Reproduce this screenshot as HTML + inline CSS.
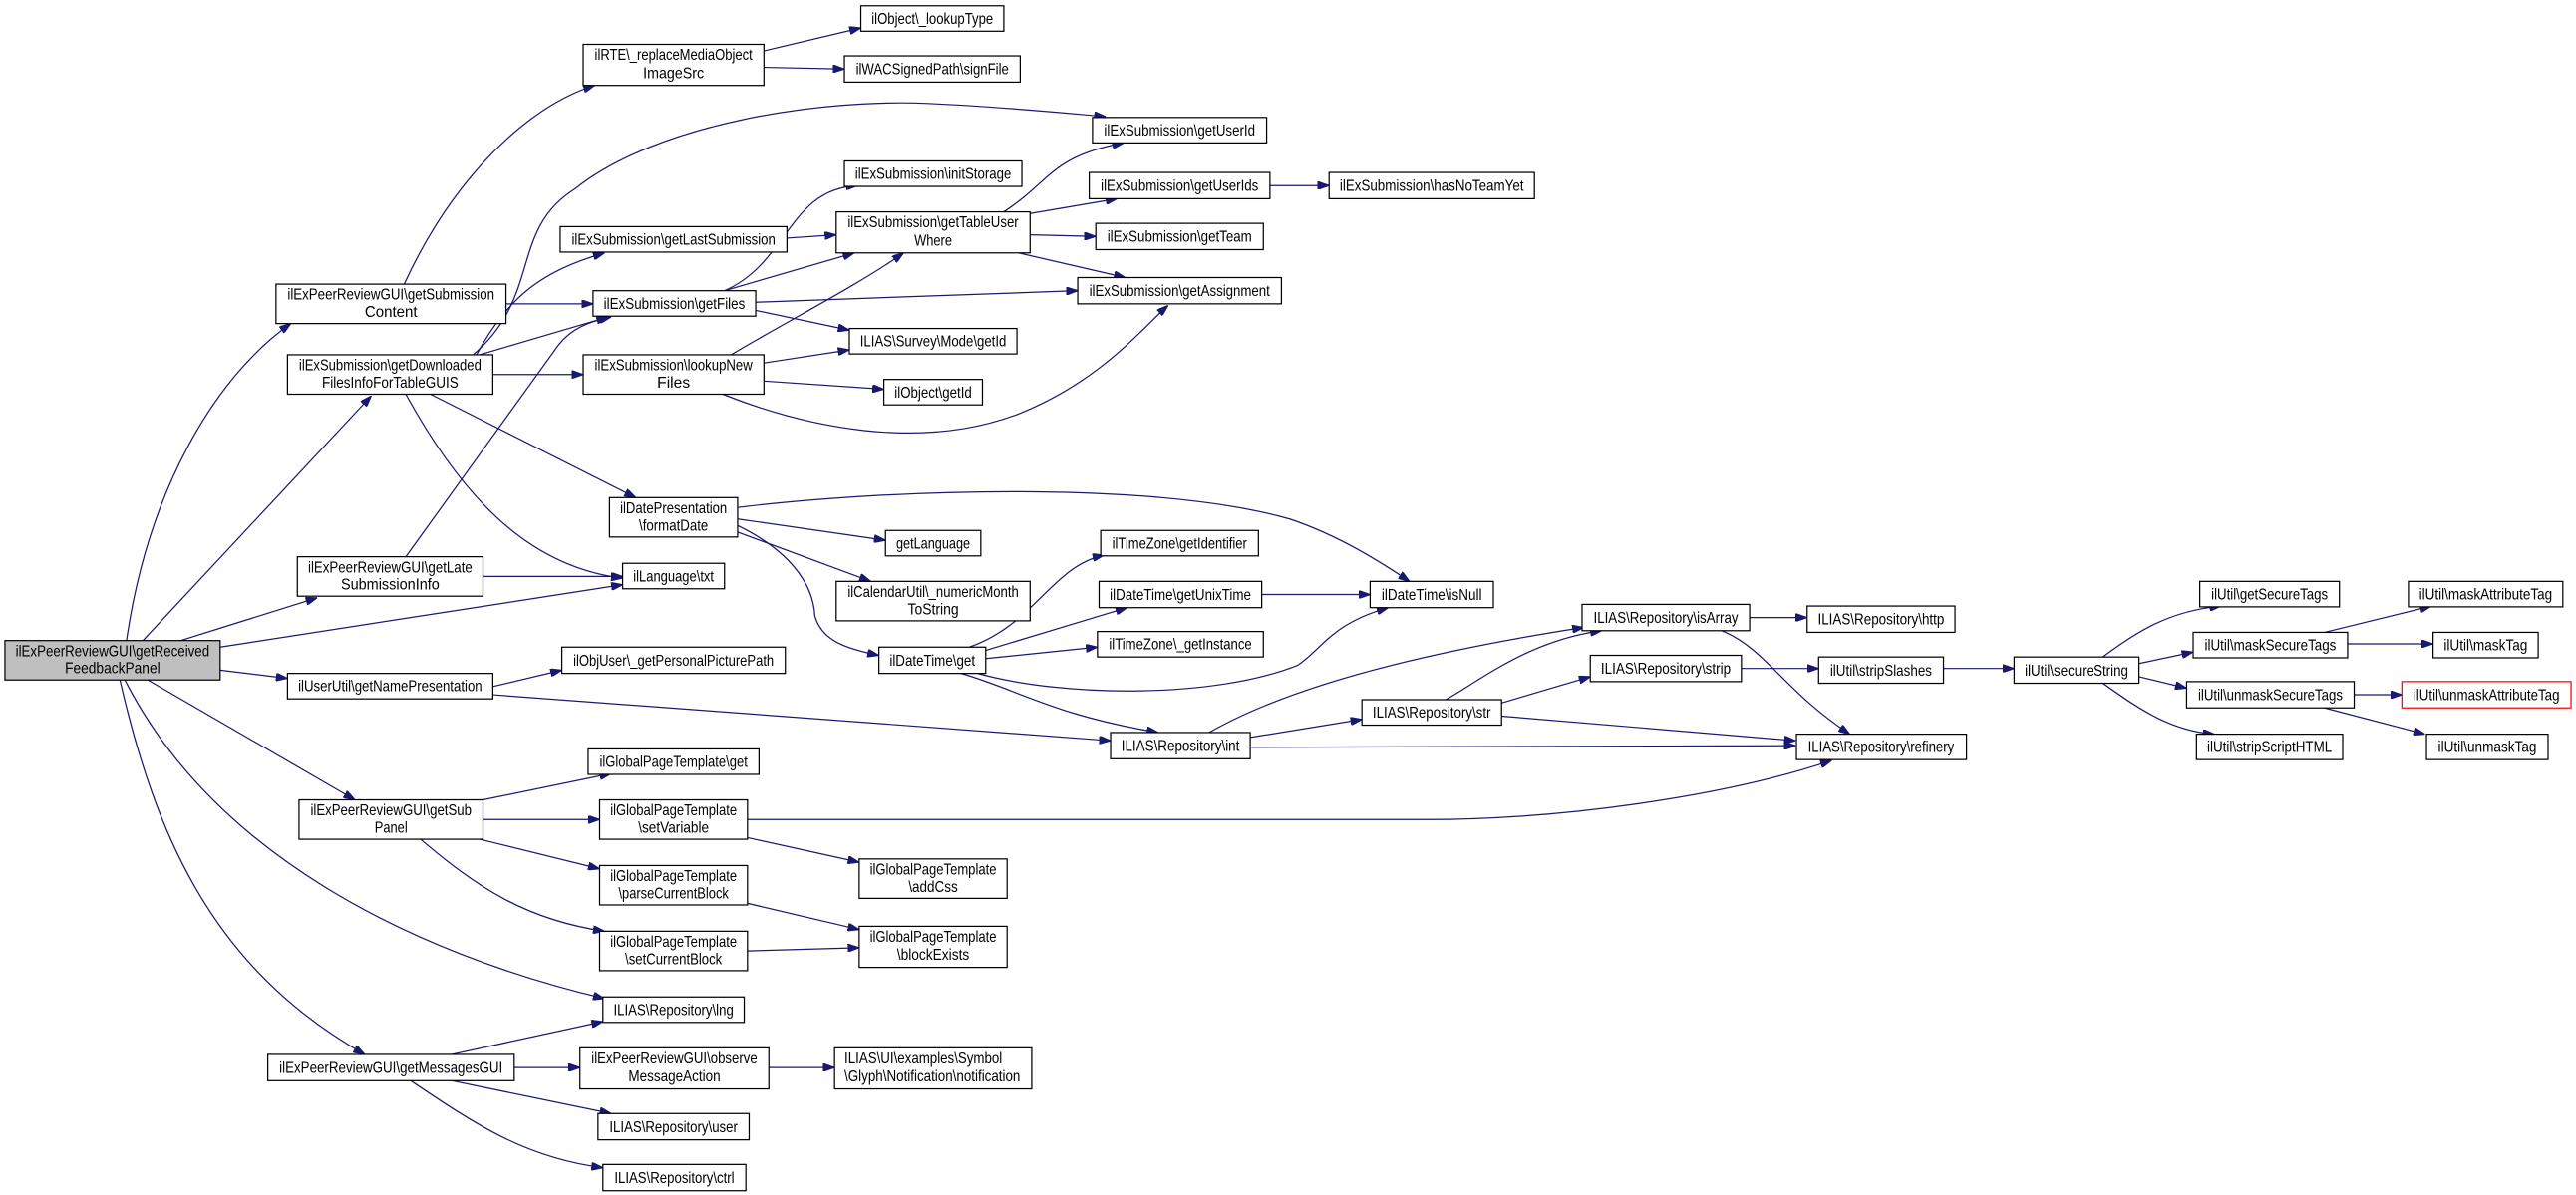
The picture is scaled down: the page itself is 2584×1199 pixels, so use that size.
<!DOCTYPE html>
<html><head><meta charset="utf-8"><style>
html,body{margin:0;padding:0;background:#fff;}
svg{display:block;}
text{font-family:"Liberation Sans",sans-serif;font-size:9.4px;fill:#000;}
.n{fill:#fff;stroke:#000;stroke-width:0.75;}
.e{fill:none;stroke:#191970;stroke-width:0.75;marker-end:url(#a);}
</style></head><body>
<svg width="2584" height="1199" viewBox="0 0 1568 727.6" preserveAspectRatio="none" xmlns="http://www.w3.org/2000/svg">
<defs><marker id="a" viewBox="0 0 10 7" refX="10" refY="3.5" markerWidth="7" markerHeight="4.9" markerUnits="userSpaceOnUse" orient="auto"><path d="M0,0 L10,3.5 L0,7 z" fill="#191970" stroke="#191970"/></marker></defs>

<!-- edges -->
<path class="e" d="M77 390 C90 300,130 230,177 197"/>
<path class="e" d="M87 390 L226 241"/>
<path class="e" d="M110 390 L193 364"/>
<path class="e" d="M134 394 L379 356"/>
<path class="e" d="M134 408 L175 413"/>
<path class="e" d="M90 414 L216 487"/>
<path class="e" d="M76 414 C130 520,250 580,368 608"/>
<path class="e" d="M73 414 C95 510,130 590,222 642"/>
<path class="e" d="M246 173 C275 110,320 65,362 52"/>
<path class="e" d="M308 185 L361 185"/>
<path class="e" d="M288 216 C330 180,310 140,350 115 C400 75,500 60,565 63 C610 65,650 69,673 71"/>
<path class="e" d="M290 216 C310 180,330 165,368 154"/>
<path class="e" d="M292 216 L370 193"/>
<path class="e" d="M247 339 L340 210 C348 200,358 196,372 193"/>
<path class="e" d="M300 228 L355 228"/>
<path class="e" d="M262 240 L387 303"/>
<path class="e" d="M247 240 C280 300,320 345,379 352"/>
<path class="e" d="M294 351 L379 351"/>
<path class="e" d="M465 31 L524 17"/>
<path class="e" d="M465 41 L514 42"/>
<path class="e" d="M479 145 L509 143"/>
<path class="e" d="M441 177 C480 160,480 115,522 113"/>
<path class="e" d="M441 177 L520 154"/>
<path class="e" d="M460 184 L656 177"/>
<path class="e" d="M460 189 L517 201"/>
<path class="e" d="M445 216 C480 195,520 175,550 154"/>
<path class="e" d="M465 221 L517 213"/>
<path class="e" d="M465 232 L538 237"/>
<path class="e" d="M440 240 C490 260,560 275,620 252 C670 232,695 200,711 186"/>
<path class="e" d="M611 129 C640 110,640 95,684 87"/>
<path class="e" d="M627 130 L680 121"/>
<path class="e" d="M627 143 L667 144"/>
<path class="e" d="M620 154 L685 169"/>
<path class="e" d="M773 113 L809 113"/>
<path class="e" d="M449 309 C540 298,700 292,785 316 C815 326,840 342,858 354"/>
<path class="e" d="M449 316 L539 329"/>
<path class="e" d="M449 324 L530 354"/>
<path class="e" d="M449 320 C480 335,495 355,496 375 C500 390,515 395,535 399"/>
<path class="e" d="M590 394 C630 380,640 345,672 338"/>
<path class="e" d="M600 396 L686 370"/>
<path class="e" d="M600 401 L668 394"/>
<path class="e" d="M595 410 C650 425,740 425,790 405 C805 395,810 380,845 370"/>
<path class="e" d="M585 410 C620 420,640 435,705 446"/>
<path class="e" d="M768 362 L834 362"/>
<path class="e" d="M300 418 L342 408"/>
<path class="e" d="M300 423 L676 451"/>
<path class="e" d="M736 446 C790 415,880 395,964 382"/>
<path class="e" d="M761 449 L829 438"/>
<path class="e" d="M761 455 L1093 454"/>
<path class="e" d="M880 426 C900 415,930 390,975 384"/>
<path class="e" d="M914 428 L968 412"/>
<path class="e" d="M914 436 L1093 451"/>
<path class="e" d="M1065 376 L1100 376"/>
<path class="e" d="M1048 384 C1075 395,1085 420,1126 447"/>
<path class="e" d="M1060 407 L1107 407"/>
<path class="e" d="M1183 407 L1226 407"/>
<path class="e" d="M455 499 L868 499 C950 499,1050 485,1115 463"/>
<path class="e" d="M1280 400 C1300 385,1320 372,1352 369"/>
<path class="e" d="M1302 404 L1335 397"/>
<path class="e" d="M1302 412 L1331 419"/>
<path class="e" d="M1280 416 C1300 430,1320 445,1348 447"/>
<path class="e" d="M1415 385 L1480 369"/>
<path class="e" d="M1429 392 L1481 392"/>
<path class="e" d="M1433 423 L1462 423"/>
<path class="e" d="M1415 431 L1476 447"/>
<path class="e" d="M294 487 L372 471"/>
<path class="e" d="M294 499 L365 499"/>
<path class="e" d="M292 511 L365 529"/>
<path class="e" d="M256 511 C290 540,320 560,368 567"/>
<path class="e" d="M455 510 L523 525"/>
<path class="e" d="M455 550 L523 566"/>
<path class="e" d="M455 579 L523 577"/>
<path class="e" d="M275 642 L367 622"/>
<path class="e" d="M313 650 L353 650"/>
<path class="e" d="M275 658 L372 678"/>
<path class="e" d="M250 658 C290 685,320 705,367 711"/>
<path class="e" d="M468 650 L508 650"/>

<!-- nodes: single line -->
<g>
<rect x="3" y="390" width="131" height="24" fill="#bfbfbf" stroke="#000" stroke-width="0.75"/>
<text x="68.5" y="399.5" text-anchor="middle" textLength="118" lengthAdjust="spacingAndGlyphs">ilExPeerReviewGUI\getReceived</text>
<text x="68.5" y="410" text-anchor="middle" textLength="58" lengthAdjust="spacingAndGlyphs">FeedbackPanel</text>

<rect class="n" x="168" y="173" width="140" height="24"/>
<text x="238" y="182.5" text-anchor="middle" textLength="126" lengthAdjust="spacingAndGlyphs">ilExPeerReviewGUI\getSubmission</text>
<text x="238" y="193" text-anchor="middle" textLength="32" lengthAdjust="spacingAndGlyphs">Content</text>

<rect class="n" x="175" y="216" width="125" height="24"/>
<text x="237.5" y="225.5" text-anchor="middle" textLength="111" lengthAdjust="spacingAndGlyphs">ilExSubmission\getDownloaded</text>
<text x="237.5" y="236" text-anchor="middle" textLength="83" lengthAdjust="spacingAndGlyphs">FilesInfoForTableGUIS</text>

<rect class="n" x="181" y="339" width="113" height="24"/>
<text x="237.5" y="348.5" text-anchor="middle" textLength="100" lengthAdjust="spacingAndGlyphs">ilExPeerReviewGUI\getLate</text>
<text x="237.5" y="359" text-anchor="middle" textLength="60" lengthAdjust="spacingAndGlyphs">SubmissionInfo</text>

<rect class="n" x="175" y="410" width="125" height="15.5"/>
<text x="237.5" y="421" text-anchor="middle" textLength="112" lengthAdjust="spacingAndGlyphs">ilUserUtil\getNamePresentation</text>

<rect class="n" x="182" y="487" width="112" height="24"/>
<text x="238" y="496.5" text-anchor="middle" textLength="98" lengthAdjust="spacingAndGlyphs">ilExPeerReviewGUI\getSub</text>
<text x="238" y="507" text-anchor="middle" textLength="20" lengthAdjust="spacingAndGlyphs">Panel</text>

<rect class="n" x="163" y="642" width="150" height="16"/>
<text x="238" y="653.3" text-anchor="middle" textLength="136" lengthAdjust="spacingAndGlyphs">ilExPeerReviewGUI\getMessagesGUI</text>

<rect class="n" x="355" y="27" width="110" height="25"/>
<text x="410" y="36.5" text-anchor="middle" textLength="96" lengthAdjust="spacingAndGlyphs">ilRTE\_replaceMediaObject</text>
<text x="410" y="47.5" text-anchor="middle" textLength="37" lengthAdjust="spacingAndGlyphs">ImageSrc</text>

<rect class="n" x="341" y="138" width="138" height="15.5"/>
<text x="410" y="149" text-anchor="middle" textLength="124" lengthAdjust="spacingAndGlyphs">ilExSubmission\getLastSubmission</text>

<rect class="n" x="361" y="177" width="99" height="15.5"/>
<text x="410.5" y="188" text-anchor="middle" textLength="86" lengthAdjust="spacingAndGlyphs">ilExSubmission\getFiles</text>

<rect class="n" x="355" y="216" width="110" height="24"/>
<text x="410" y="225.5" text-anchor="middle" textLength="96" lengthAdjust="spacingAndGlyphs">ilExSubmission\lookupNew</text>
<text x="410" y="236" text-anchor="middle" textLength="20" lengthAdjust="spacingAndGlyphs">Files</text>

<rect class="n" x="371" y="303" width="78" height="24"/>
<text x="410" y="312.5" text-anchor="middle" textLength="65" lengthAdjust="spacingAndGlyphs">ilDatePresentation</text>
<text x="410" y="323" text-anchor="middle" textLength="42" lengthAdjust="spacingAndGlyphs">\formatDate</text>

<rect class="n" x="379" y="343" width="62" height="15.5"/>
<text x="410" y="354" text-anchor="middle" textLength="49" lengthAdjust="spacingAndGlyphs">ilLanguage\txt</text>

<rect class="n" x="342" y="394" width="136" height="16"/>
<text x="410" y="405.3" text-anchor="middle" textLength="122" lengthAdjust="spacingAndGlyphs">ilObjUser\_getPersonalPicturePath</text>

<rect class="n" x="358" y="456" width="104" height="15.5"/>
<text x="410" y="467" text-anchor="middle" textLength="90" lengthAdjust="spacingAndGlyphs">ilGlobalPageTemplate\get</text>

<rect class="n" x="365" y="487" width="90" height="24"/>
<text x="410" y="496.5" text-anchor="middle" textLength="77" lengthAdjust="spacingAndGlyphs">ilGlobalPageTemplate</text>
<text x="410" y="507" text-anchor="middle" textLength="43" lengthAdjust="spacingAndGlyphs">\setVariable</text>

<rect class="n" x="365" y="527" width="90" height="24"/>
<text x="410" y="536.5" text-anchor="middle" textLength="77" lengthAdjust="spacingAndGlyphs">ilGlobalPageTemplate</text>
<text x="410" y="547" text-anchor="middle" textLength="67" lengthAdjust="spacingAndGlyphs">\parseCurrentBlock</text>

<rect class="n" x="365" y="567" width="90" height="24"/>
<text x="410" y="576.5" text-anchor="middle" textLength="77" lengthAdjust="spacingAndGlyphs">ilGlobalPageTemplate</text>
<text x="410" y="587" text-anchor="middle" textLength="59" lengthAdjust="spacingAndGlyphs">\setCurrentBlock</text>

<rect class="n" x="367" y="607" width="86" height="15.5"/>
<text x="410" y="618" text-anchor="middle" textLength="73" lengthAdjust="spacingAndGlyphs">ILIAS\Repository\lng</text>

<rect class="n" x="353" y="638" width="115" height="25"/>
<text x="410.5" y="647.5" text-anchor="middle" textLength="101" lengthAdjust="spacingAndGlyphs">ilExPeerReviewGUI\observe</text>
<text x="410.5" y="658.5" text-anchor="middle" textLength="56" lengthAdjust="spacingAndGlyphs">MessageAction</text>

<rect class="n" x="364" y="678" width="92" height="16"/>
<text x="410" y="689.3" text-anchor="middle" textLength="78" lengthAdjust="spacingAndGlyphs">ILIAS\Repository\user</text>

<rect class="n" x="367" y="709" width="87" height="16"/>
<text x="410.5" y="720.3" text-anchor="middle" textLength="73" lengthAdjust="spacingAndGlyphs">ILIAS\Repository\ctrl</text>

<rect class="n" x="524" y="3.5" width="87" height="15.5"/>
<text x="567.5" y="14.5" text-anchor="middle" textLength="74" lengthAdjust="spacingAndGlyphs">ilObject\_lookupType</text>

<rect class="n" x="514" y="34" width="107" height="16"/>
<text x="567.5" y="45.3" text-anchor="middle" textLength="93" lengthAdjust="spacingAndGlyphs">ilWACSignedPath\signFile</text>

<rect class="n" x="665" y="71.5" width="106" height="15.5"/>
<text x="718" y="82.5" text-anchor="middle" textLength="92" lengthAdjust="spacingAndGlyphs">ilExSubmission\getUserId</text>

<rect class="n" x="514" y="98" width="108" height="15.5"/>
<text x="568" y="109" text-anchor="middle" textLength="95" lengthAdjust="spacingAndGlyphs">ilExSubmission\initStorage</text>

<rect class="n" x="663" y="105" width="110" height="16"/>
<text x="718" y="116.3" text-anchor="middle" textLength="96" lengthAdjust="spacingAndGlyphs">ilExSubmission\getUserIds</text>

<rect class="n" x="809" y="105" width="125" height="16"/>
<text x="871.5" y="116.3" text-anchor="middle" textLength="112" lengthAdjust="spacingAndGlyphs">ilExSubmission\hasNoTeamYet</text>

<rect class="n" x="509" y="129" width="118" height="25"/>
<text x="568" y="138.5" text-anchor="middle" textLength="104" lengthAdjust="spacingAndGlyphs">ilExSubmission\getTableUser</text>
<text x="568" y="149.5" text-anchor="middle" textLength="23" lengthAdjust="spacingAndGlyphs">Where</text>

<rect class="n" x="667" y="136" width="102" height="16"/>
<text x="718" y="147.3" text-anchor="middle" textLength="88" lengthAdjust="spacingAndGlyphs">ilExSubmission\getTeam</text>

<rect class="n" x="656" y="169" width="124" height="16"/>
<text x="718" y="180.3" text-anchor="middle" textLength="110" lengthAdjust="spacingAndGlyphs">ilExSubmission\getAssignment</text>

<rect class="n" x="517" y="200" width="102" height="15.5"/>
<text x="568" y="211" text-anchor="middle" textLength="89" lengthAdjust="spacingAndGlyphs">ILIAS\Survey\Mode\getId</text>

<rect class="n" x="538" y="231" width="60" height="15.5"/>
<text x="568" y="242" text-anchor="middle" textLength="47" lengthAdjust="spacingAndGlyphs">ilObject\getId</text>

<rect class="n" x="539" y="323" width="58" height="15.5"/>
<text x="568" y="334" text-anchor="middle" textLength="45" lengthAdjust="spacingAndGlyphs">getLanguage</text>

<rect class="n" x="670" y="323" width="96" height="15.5"/>
<text x="718" y="334" text-anchor="middle" textLength="82" lengthAdjust="spacingAndGlyphs">ilTimeZone\getIdentifier</text>

<rect class="n" x="509" y="354" width="118" height="24"/>
<text x="568" y="363.5" text-anchor="middle" textLength="104" lengthAdjust="spacingAndGlyphs">ilCalendarUtil\_numericMonth</text>
<text x="568" y="374" text-anchor="middle" textLength="31" lengthAdjust="spacingAndGlyphs">ToString</text>

<rect class="n" x="669" y="354" width="99" height="16"/>
<text x="718.5" y="365.3" text-anchor="middle" textLength="86" lengthAdjust="spacingAndGlyphs">ilDateTime\getUnixTime</text>

<rect class="n" x="834" y="354" width="75" height="16"/>
<text x="871.5" y="365.3" text-anchor="middle" textLength="61" lengthAdjust="spacingAndGlyphs">ilDateTime\isNull</text>

<rect class="n" x="668" y="384.5" width="101" height="15.5"/>
<text x="718.5" y="395.5" text-anchor="middle" textLength="87" lengthAdjust="spacingAndGlyphs">ilTimeZone\_getInstance</text>

<rect class="n" x="535" y="394" width="65" height="16"/>
<text x="567.5" y="405.3" text-anchor="middle" textLength="52" lengthAdjust="spacingAndGlyphs">ilDateTime\get</text>

<rect class="n" x="676" y="446" width="85" height="16"/>
<text x="718.5" y="457.3" text-anchor="middle" textLength="72" lengthAdjust="spacingAndGlyphs">ILIAS\Repository\int</text>

<rect class="n" x="829" y="426" width="85" height="15.5"/>
<text x="871.5" y="437" text-anchor="middle" textLength="72" lengthAdjust="spacingAndGlyphs">ILIAS\Repository\str</text>

<rect class="n" x="523" y="523" width="90" height="24"/>
<text x="568" y="532.5" text-anchor="middle" textLength="77" lengthAdjust="spacingAndGlyphs">ilGlobalPageTemplate</text>
<text x="568" y="543" text-anchor="middle" textLength="30" lengthAdjust="spacingAndGlyphs">\addCss</text>

<rect class="n" x="523" y="564" width="90" height="25"/>
<text x="568" y="573.5" text-anchor="middle" textLength="77" lengthAdjust="spacingAndGlyphs">ilGlobalPageTemplate</text>
<text x="568" y="584.5" text-anchor="middle" textLength="44" lengthAdjust="spacingAndGlyphs">\blockExists</text>

<rect class="n" x="508" y="638" width="120" height="25"/>
<text x="514" y="647.5" textLength="96" lengthAdjust="spacingAndGlyphs">ILIAS\UI\examples\Symbol</text>
<text x="514" y="658.5" textLength="107" lengthAdjust="spacingAndGlyphs">\Glyph\Notification\notification</text>

<rect class="n" x="963" y="368" width="102" height="16"/>
<text x="1014" y="379.3" text-anchor="middle" textLength="88" lengthAdjust="spacingAndGlyphs">ILIAS\Repository\isArray</text>

<rect class="n" x="1100" y="369" width="90" height="16"/>
<text x="1145" y="380.3" text-anchor="middle" textLength="77" lengthAdjust="spacingAndGlyphs">ILIAS\Repository\http</text>

<rect class="n" x="968" y="399" width="92" height="16"/>
<text x="1014" y="410.3" text-anchor="middle" textLength="79" lengthAdjust="spacingAndGlyphs">ILIAS\Repository\strip</text>

<rect class="n" x="1107" y="400" width="76" height="16"/>
<text x="1145" y="411.3" text-anchor="middle" textLength="62" lengthAdjust="spacingAndGlyphs">ilUtil\stripSlashes</text>

<rect class="n" x="1093.5" y="447" width="103.5" height="15.5"/>
<text x="1145" y="458" text-anchor="middle" textLength="89" lengthAdjust="spacingAndGlyphs">ILIAS\Repository\refinery</text>

<rect class="n" x="1226" y="400" width="76" height="16"/>
<text x="1264" y="411.3" text-anchor="middle" textLength="63" lengthAdjust="spacingAndGlyphs">ilUtil\secureString</text>

<rect class="n" x="1339" y="354" width="85" height="15.5"/>
<text x="1381.5" y="365" text-anchor="middle" textLength="71" lengthAdjust="spacingAndGlyphs">ilUtil\getSecureTags</text>

<rect class="n" x="1466" y="354" width="94" height="15.5"/>
<text x="1513" y="365" text-anchor="middle" textLength="81" lengthAdjust="spacingAndGlyphs">ilUtil\maskAttributeTag</text>

<rect class="n" x="1335" y="385" width="94" height="15.5"/>
<text x="1382" y="396" text-anchor="middle" textLength="80" lengthAdjust="spacingAndGlyphs">ilUtil\maskSecureTags</text>

<rect class="n" x="1481" y="385" width="64" height="15.5"/>
<text x="1513" y="396" text-anchor="middle" textLength="51" lengthAdjust="spacingAndGlyphs">ilUtil\maskTag</text>

<rect class="n" x="1331" y="415" width="102" height="16"/>
<text x="1382" y="426.3" text-anchor="middle" textLength="88" lengthAdjust="spacingAndGlyphs">ilUtil\unmaskSecureTags</text>

<rect x="1462" y="415" width="103" height="16" fill="#fff" stroke="#ff0000" stroke-width="0.75"/>
<text x="1513.5" y="426.3" text-anchor="middle" textLength="89" lengthAdjust="spacingAndGlyphs">ilUtil\unmaskAttributeTag</text>

<rect class="n" x="1337" y="447" width="89" height="15.5"/>
<text x="1381.5" y="458" text-anchor="middle" textLength="76" lengthAdjust="spacingAndGlyphs">ilUtil\stripScriptHTML</text>

<rect class="n" x="1477" y="447" width="74" height="15.5"/>
<text x="1514" y="458" text-anchor="middle" textLength="60" lengthAdjust="spacingAndGlyphs">ilUtil\unmaskTag</text>
</g>
</svg>
</body></html>
